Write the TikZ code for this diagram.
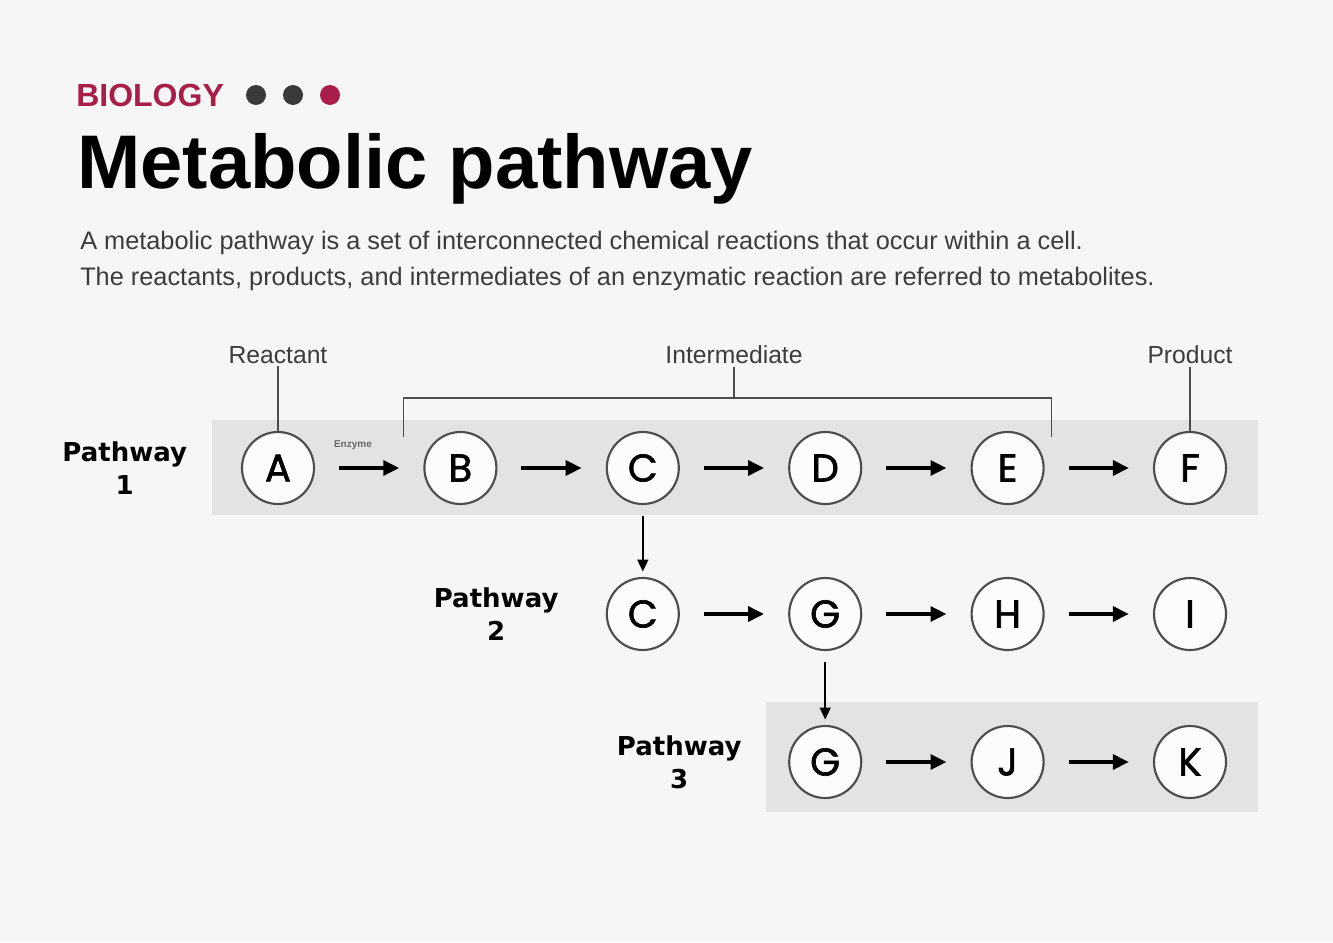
\documentclass[tikz,border=0pt]{standalone}
\usepackage{fontspec}
\setmainfont{Liberation Sans}
\newfontfamily\labfont{DejaVu Sans}
\newfontfamily\letterfont{Poppins}[BoldFont=*, BoldFeatures={FakeBold=1.6}]
\usetikzlibrary{positioning,calc,arrows.meta}
\definecolor{bgcol}{HTML}{F6F6F6}
\definecolor{bandcol}{HTML}{E3E3E3}
\definecolor{crimson}{HTML}{A81E48}
\definecolor{dotgray}{HTML}{3A3A3A}
\definecolor{ringcol}{HTML}{4D4D4D}
\definecolor{textgray}{HTML}{3C3C3C}

\tikzset{
  metab/.style={circle, draw=ringcol, line width=1.6pt, fill=white!70!bgcol,
    minimum size=54pt, inner sep=0pt, font=\letterfont\bfseries\fontsize{29}{29}\selectfont},
  pwlabel/.style={align=center, inner sep=0pt, font=\labfont\bfseries\fontsize{19.5}{25}\selectfont},
  rolelabel/.style={inner sep=2pt, text=textgray, font=\fontsize{18.5}{18.5}\selectfont},
  rxn/.style={->, line width=3pt, shorten >=18pt, shorten <=18pt},
  drop/.style={-{Triangle[length=9pt, width=8pt]}, line width=1.8pt, shorten <=8pt, shorten >=4pt},
  bracket/.style={draw=ringcol, line width=1.3pt},
  enz/.style={pos=0.35, above=9pt, text=black!60, font=\bfseries\fontsize{7.5}{7.5}\selectfont}
}

\begin{document}
\begin{tikzpicture}[x=0.75pt, y=-0.75pt, node distance=136.8pt, on grid, auto,
  >={Triangle[length=12pt, width=11pt]}]
\useasboundingbox[fill=bgcol] (0,0) rectangle (1333,942);

% header
\node[anchor=base west, inner sep=0pt, text=crimson, font=\bfseries\fontsize{24}{24}\selectfont] (subject) at (76,106) {BIOLOGY};
\fill[dotgray] (256,95) circle (7.5pt);
\fill[dotgray] (293,95) circle (7.5pt);
\fill[crimson] (330,95) circle (7.5pt);
\node[anchor=base west, inner sep=0pt, font=\bfseries\fontsize{57}{60}\selectfont] (title) at (77,188) {Metabolic pathway};
\node[anchor=base west, inner sep=0pt, text=textgray, font=\fontsize{19}{19}\selectfont] (desc1) at (80,249)
  {A metabolic pathway is a set of interconnected chemical reactions that occur within a cell.};
\node[anchor=base west, inner sep=0pt, text=textgray, font=\fontsize{19}{19}\selectfont] (desc2) at (80,285)
  {The reactants, products, and intermediates of an enzymatic reaction are referred to metabolites.};

% bands
\fill[bandcol] (212,420) rectangle (1258,515);
\fill[bandcol] (766,702) rectangle (1258,812);

% pathway 1
\node[metab] (A) at (278,468) {A};
\node[metab] (B) [right=of A] {B};
\node[metab] (C) [right=of B] {C};
\node[metab] (D) [right=of C] {D};
\node[metab] (E) [right=of D] {E};
\node[metab] (F) [right=of E] {F};
\node[pwlabel] (pw1) [left=115pt of A] {Pathway\\1};

% pathway 2
\node[metab] (C2) [below=109.5pt of C] {C};
\node[metab] (G2) [right=of C2] {G};
\node[metab] (H2) [right=of G2] {H};
\node[metab] (I2) [right=of H2] {I};
\node[pwlabel] (pw2) [left=110pt of C2] {Pathway\\2};

% pathway 3
\node[metab] (G3) [below=111pt of G2] {G};
\node[metab] (J3) [right=of G3] {J};
\node[metab] (K3) [right=of J3] {K};
\node[pwlabel] (pw3) [left=109.5pt of G3] {Pathway\\3};

% roles
\node[rolelabel] (react) [above=85pt of A] {Reactant};
\node[rolelabel] (prod) [above=85pt of F] {Product};
\node[rolelabel] (inter) at ($(react)!0.5!(prod)$) {Intermediate};
\coordinate (brl) at ($(B)+(-57,-70)$);
\coordinate (brr) at ($(E)+(44,-70)$);
\draw[bracket] (react) -- (A);
\draw[bracket] (prod) -- (F);
\draw[bracket] (inter) -- (inter |- brl);
\draw[bracket] ($(brl)+(0,39)$) -- (brl) -- (brr) -- ($(brr)+(0,39)$);

\path[rxn]
(A) edge node[enz] {Enzyme} (B)
(B) edge (C)
(C) edge (D)
(D) edge (E)
(E) edge (F)
(C2) edge (G2)
(G2) edge (H2)
(H2) edge (I2)
(G3) edge (J3)
(J3) edge (K3);
\path[drop]
(C) edge (C2)
(G2) edge (G3);
\end{tikzpicture}
\end{document}
